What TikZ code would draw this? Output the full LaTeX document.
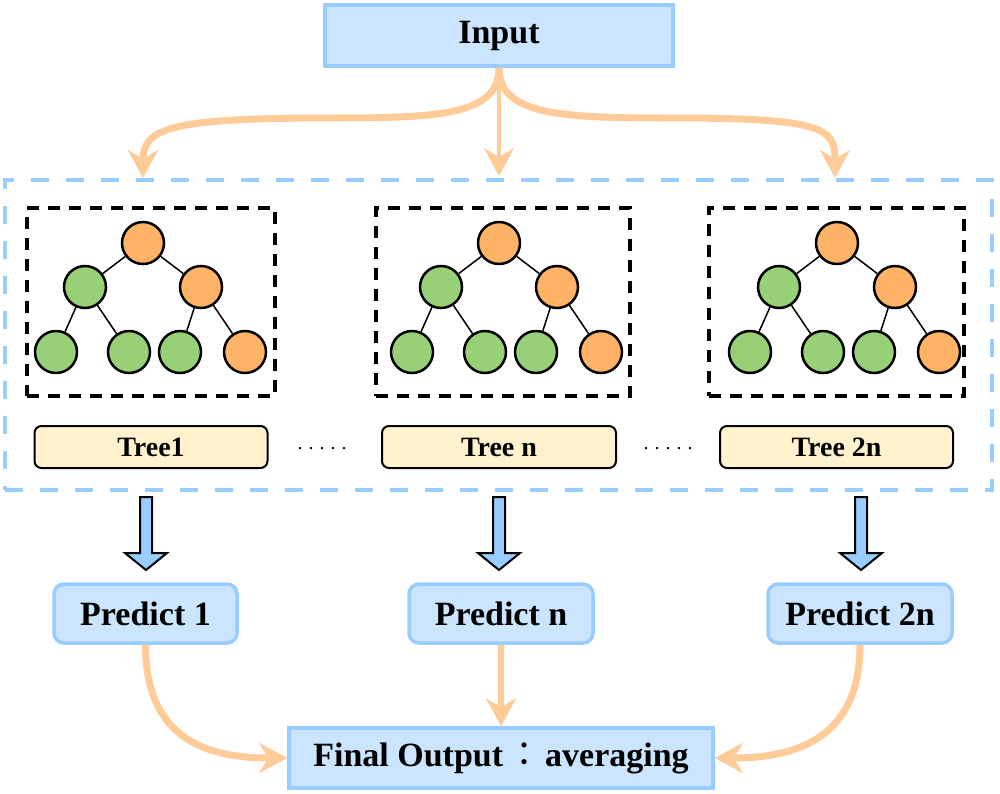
\documentclass[tikz,border=0pt]{standalone}
\usepackage{fontspec}
\setmainfont{Liberation Serif}
\newfontfamily\cjk{Noto Sans CJK TC}
\usetikzlibrary{arrows.meta}

\definecolor{lblue}{HTML}{CCE5FF}
\definecolor{mblue}{HTML}{99CCFF}
\definecolor{ltgreen}{HTML}{97D077}
\definecolor{ltorange}{HTML}{FFB366}
\definecolor{conn}{HTML}{FFCC99}
\definecolor{lyellow}{HTML}{FFF2CC}

\newcommand\mytree[2]{%
  \node[onode] (#1r) at (#2,243) {};
  \node[gnode] (#1a) at ({#2-58},287) {};
  \node[onode] (#1b) at ({#2+58},287) {};
  \node[gnode] (#1c) at ({#2-87},352) {};
  \node[gnode] (#1d) at ({#2-14},352) {};
  \node[gnode] (#1e) at ({#2+37},352) {};
  \node[onode] (#1f) at ({#2+102},352) {};
  \draw[treeedge] (#1r)--(#1a) (#1r)--(#1b) (#1a)--(#1c) (#1a)--(#1d) (#1b)--(#1e) (#1b)--(#1f);
}
\newcommand\blkarrow[1]{%
  \draw[blkarr, shift={(#1,497)}] (-6,0) -- (6,0) -- (6,56) -- (21,56) -- (0,73) -- (-21,56) -- (-6,56) -- cycle;
}

\begin{document}
\begin{tikzpicture}[x=1pt,y=-1pt,
  bigfont/.style={font=\fontsize{34}{40}\selectfont\bfseries},
  bluebox/.style={draw=mblue, fill=lblue, line width=3.5pt, inner sep=0pt, bigfont},
  predbox/.style={bluebox, rounded corners=10pt},
  container/.style={draw=mblue, line width=4pt, dash pattern=on 18pt off 17pt, inner sep=0pt},
  treebox/.style={draw=black, line width=3.5pt, dash pattern=on 12pt off 9pt, inner sep=0pt, minimum height=188},
  treelabel/.style={draw=black, line width=2pt, fill=lyellow, rounded corners=7pt, inner sep=0pt, minimum height=42, font=\fontsize{28}{32}\selectfont\bfseries},
  cnode/.style={circle, draw=black, line width=2.5pt, minimum size=42, inner sep=0pt},
  onode/.style={cnode, fill=ltorange},
  gnode/.style={cnode, fill=ltgreen},
  treeedge/.style={draw=black, line width=1.5pt},
  blkarr/.style={draw=black, fill=mblue, line width=2pt, line join=miter},
  oarr/.style={draw=conn, line width=7pt, -{Stealth[length=28pt,width=30pt,inset=9pt]}},
  dots/.style={font=\fontsize{20}{24}\selectfont, anchor=base, inner sep=0pt}
]
\useasboundingbox (0,0) rectangle (1000,793);

% container
\node[container, minimum width=987, minimum height=310] (cont) at (498.5,335) {};

% input
\node[bluebox, minimum width=348, minimum height=61] (input) at (499,35.5) {Input};

% tree boxes
\node[treebox, minimum width=248] (tb1) at (151,302) {};
\node[treebox, minimum width=254] (tbn) at (503,302) {};
\node[treebox, minimum width=255] (tb2n) at (836.5,302) {};

\mytree{ta}{143}
\mytree{tb}{499}
\mytree{tc}{837}

% tree labels
\node[treelabel, minimum width=233] (l1) at (151,447) {Tree1};
\node[treelabel, minimum width=234] (ln) at (499,447) {Tree n};
\node[treelabel, minimum width=233] (l2n) at (836.5,447) {Tree 2n};
\node[dots] (d1) at (322,449) {.\hspace{6pt}.\hspace{6pt}.\hspace{6pt}.\hspace{6pt}.};
\node[dots] (d2) at (668,449) {.\hspace{6pt}.\hspace{6pt}.\hspace{6pt}.\hspace{6pt}.};

% top arrows
\coordinate (tipL) at (143,178);
\coordinate (tipM) at (499,176);
\coordinate (tipR) at (835,178);
\draw[oarr] (input.south) .. controls (499,115) and (440,118) .. (330,118) .. controls (170,118) and (143,128) .. (tipL);
\draw[oarr] (input.south) .. controls (499,115) and (560,118) .. (670,118) .. controls (825,118) and (835,128) .. (tipR);
\draw[oarr, line width=4.5pt] (input.south) -- (tipM);

% block arrows
\blkarrow{146}
\blkarrow{499}
\blkarrow{861}

% predict boxes
\node[predbox, minimum width=183, minimum height=59] (p1) at (145.5,613.5) {Predict 1};
\node[predbox, minimum width=184, minimum height=59] (pn) at (501,613.5) {Predict n};
\node[predbox, minimum width=184, minimum height=59] (p2n) at (860,613.5) {Predict 2n};

% final
\node[bluebox, minimum width=424, minimum height=60] (fin) at (501,758) {Final Output\hspace{4pt}{\cjk\mdseries ：}\hspace{4pt}averaging};

\draw[oarr] (p1.south) .. controls (145.5,738) and (205,758) .. (fin.west);
\draw[oarr, line width=6pt] (pn.south) -- (fin.north);
\draw[oarr] (p2n.south) .. controls (860,738) and (797,758) .. (fin.east);
\end{tikzpicture}
\end{document}
